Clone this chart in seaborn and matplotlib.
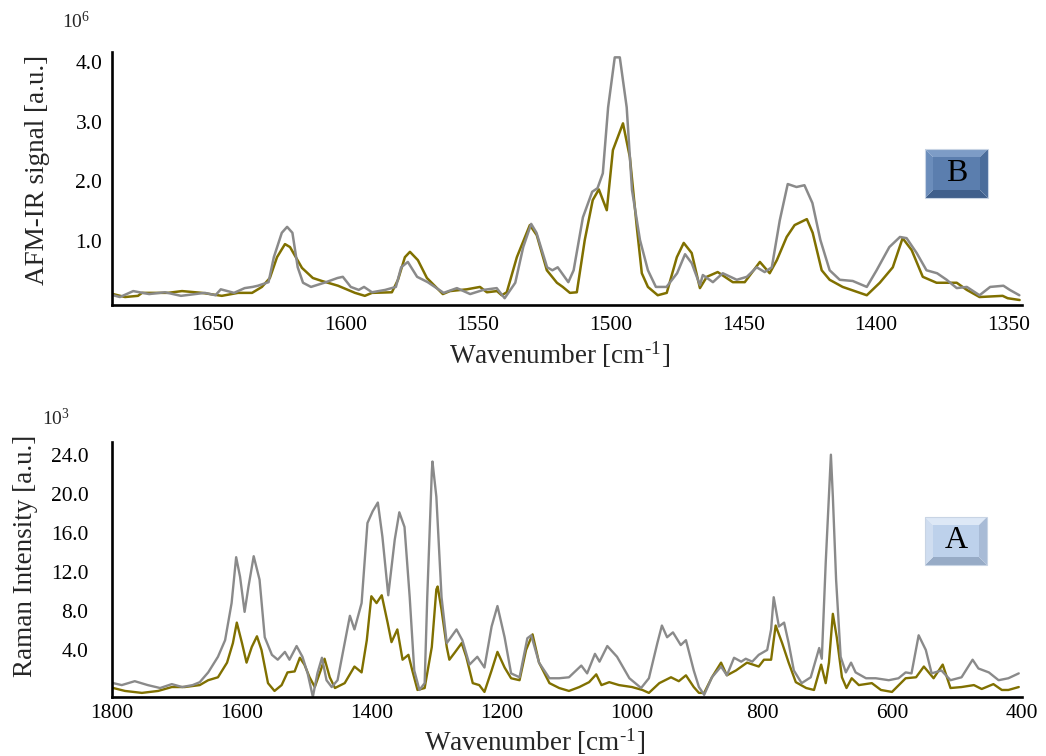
import matplotlib
matplotlib.use("Agg")
import matplotlib.pyplot as plt
import matplotlib.patches as mpatches
from matplotlib.ticker import FormatStrFormatter
import pandas as pd
import seaborn as sns

# AFM-IR spectrum (panel B), signal in units of 1e6
afm_wn_gray = [1687.6, 1685, 1680, 1674, 1668, 1662, 1653, 1649, 1647, 1642,
               1638, 1635, 1633, 1629, 1627, 1624, 1622, 1620, 1618, 1616,
               1613, 1608, 1603, 1601, 1598, 1595, 1593, 1590, 1585, 1581,
               1579, 1576.5, 1573, 1569, 1563, 1558, 1553, 1548, 1543, 1540,
               1536, 1533, 1530, 1528, 1524, 1522, 1520, 1516, 1514, 1510.5,
               1507, 1505, 1503, 1501, 1498.5, 1496.6, 1494, 1492, 1489, 1486,
               1483, 1479, 1475, 1472, 1469.5, 1466.4, 1465.3, 1461.5, 1457.8, 1452.5,
               1448.7, 1445, 1442, 1439.3, 1436.3, 1433.3, 1430, 1427, 1424, 1421,
               1417.5, 1413.7, 1408.8, 1403.5, 1399.8, 1395, 1391, 1388.5, 1384.7, 1381,
               1377, 1373.4, 1369.6, 1365.8, 1361, 1357, 1352, 1349.6, 1346]
afm_gray = [0.08, 0.05, 0.15, 0.10, 0.13, 0.07, 0.12, 0.08, 0.18, 0.12,
            0.20, 0.22, 0.24, 0.30, 0.72, 1.13, 1.23, 1.13, 0.55, 0.29,
            0.22, 0.29, 0.37, 0.39, 0.22, 0.17, 0.22, 0.13, 0.17, 0.22,
            0.55, 0.64, 0.39, 0.30, 0.12, 0.20, 0.10, 0.17, 0.20, 0.03,
            0.29, 0.89, 1.28, 1.13, 0.55, 0.50, 0.55, 0.30, 0.50, 1.39,
            1.82, 1.88, 2.13, 3.24, 4.08, 4.08, 3.24, 1.85, 1.01, 0.50,
            0.22, 0.22, 0.45, 0.77, 0.62, 0.25, 0.42, 0.30, 0.45, 0.34,
            0.39, 0.55, 0.47, 0.55, 1.34, 1.95, 1.90, 1.93, 1.63, 1.01,
            0.50, 0.34, 0.32, 0.22, 0.50, 0.89, 1.06, 1.04, 0.79, 0.50,
            0.45, 0.34, 0.20, 0.22, 0.08, 0.22, 0.24, 0.17, 0.08]

afm_wn_olive = [1687.6, 1683.1, 1678.2, 1676.7, 1666.9, 1661.6, 1654.1, 1646.6, 1640.5, 1635.2,
                1631.5, 1628.5, 1625.8, 1622.8, 1620.9, 1616.4, 1612.3, 1608.9, 1602.8, 1596.4,
                1592.7, 1590.0, 1582.5, 1580.2, 1577.6, 1575.7, 1572.7, 1569.3, 1563.3, 1560.6,
                1554.2, 1549.3, 1546.7, 1542.9, 1541.1, 1539.2, 1535.4, 1530.5, 1527.9, 1524.1,
                1520.3, 1518.1, 1515.4, 1512.8, 1509.8, 1506.8, 1504.5, 1501.5, 1499.2, 1495.4,
                1492.8, 1490.2, 1488.3, 1486.0, 1482.3, 1478.9, 1475.1, 1472.5, 1469.5, 1466.4,
                1463.8, 1459.7, 1454.0, 1449.5, 1443.8, 1440.1, 1437.4, 1433.7, 1430.7, 1426.1,
                1423.9, 1420.5, 1417.5, 1412.6, 1403.5, 1398.6, 1393.7, 1390.0, 1386.6, 1382.4,
                1377.2, 1369.6, 1365.8, 1361.0, 1352.3, 1350.4, 1345.9]
afm_olive = [0.10, 0.05, 0.07, 0.12, 0.12, 0.15, 0.12, 0.07, 0.12, 0.12,
             0.22, 0.37, 0.72, 0.94, 0.89, 0.54, 0.37, 0.32, 0.24, 0.12,
             0.07, 0.12, 0.13, 0.34, 0.72, 0.81, 0.67, 0.37, 0.10, 0.15,
             0.18, 0.22, 0.13, 0.15, 0.08, 0.13, 0.72, 1.26, 1.09, 0.50,
             0.29, 0.22, 0.12, 0.13, 1.01, 1.68, 1.86, 1.51, 2.52, 2.97,
             2.40, 1.23, 0.45, 0.22, 0.08, 0.12, 0.72, 0.96, 0.79, 0.20,
             0.39, 0.47, 0.30, 0.30, 0.64, 0.45, 0.67, 1.06, 1.26, 1.36,
             1.13, 0.50, 0.34, 0.22, 0.08, 0.29, 0.55, 1.04, 0.84, 0.39,
             0.29, 0.29, 0.17, 0.05, 0.07, 0.03, 0.0]

# Raman spectrum (panel A), intensity in units of 1e3
raman_wn_gray = [1798, 1785, 1765, 1745, 1726, 1708, 1692, 1676, 1665, 1652,
                 1637, 1626, 1616, 1609, 1603, 1596, 1590, 1582, 1573, 1565,
                 1554, 1545, 1534, 1527, 1516, 1507, 1499, 1491, 1484, 1477,
                 1470, 1462, 1453, 1442, 1434, 1427, 1416, 1407, 1399, 1391,
                 1384, 1375, 1365, 1358, 1350, 1342, 1335, 1327, 1319, 1315,
                 1308, 1307, 1301, 1293, 1285, 1270, 1261, 1250, 1238, 1227,
                 1216, 1207, 1196, 1186, 1173, 1161, 1155, 1143, 1127, 1112,
                 1097, 1078, 1069, 1057, 1050, 1038, 1023, 1004, 986, 974,
                 961, 954, 946, 937, 925, 917, 905, 897, 889, 877,
                 863, 854, 843, 832, 825, 815, 805, 792, 786, 782,
                 774, 766, 759, 751, 739, 725, 712, 708, 702, 694,
                 691, 686, 679, 671, 663, 656, 640, 625, 605, 590,
                 579, 570, 559, 548, 539, 524, 510, 493, 476, 467,
                 451, 436, 421, 405]
raman_gray = [0.6, 0.4, 0.8, 0.4, 0.1, 0.5, 0.2, 0.4, 0.7, 1.7,
              3.3, 5.0, 8.8, 13.5, 11.5, 7.9, 10.5, 13.6, 11.2, 5.3,
              3.5, 3.0, 3.8, 3.0, 4.4, 3.3, 1.6, -0.8, 1.6, 3.2,
              0.9, 0.2, 0.9, 4.7, 7.5, 6.1, 8.8, 17.0, 18.2, 19.1,
              15.6, 9.6, 15.3, 18.1, 16.6, 9.4, 1.9, -0.1, 0.6, 9.4,
              22.2, 23.3, 19.7, 9.4, 4.7, 6.1, 5.0, 2.5, 3.3, 2.2,
              6.4, 8.5, 5.3, 1.6, 1.2, 5.2, 5.5, 2.7, 1.1, 1.1,
              1.2, 2.4, 1.6, 3.6, 2.8, 4.4, 3.3, 1.1, 0.1, 1.1,
              4.7, 6.5, 5.3, 5.8, 4.5, 5.0, 1.9, 0.2, -0.6, 1.2,
              2.3, 1.4, 3.2, 2.8, 3.1, 2.8, 3.5, 4.0, 6.1, 9.4,
              6.4, 6.8, 4.7, 1.9, 0.6, 1.2, 4.2, 3.1, 12.9, 24.0,
              19.7, 11.2, 3.3, 1.7, 2.7, 1.7, 1.1, 1.1, 0.9, 1.1,
              1.7, 1.6, 5.5, 4.0, 1.6, 1.9, 0.9, 1.2, 3.0, 2.1,
              1.7, 0.9, 1.1, 1.6]

raman_wn_olive = [1798, 1780, 1754, 1729, 1708, 1688, 1665, 1652, 1637, 1623,
                  1614, 1608, 1600, 1593, 1585, 1577, 1570, 1560, 1550, 1539,
                  1530, 1519, 1511, 1504, 1496, 1488, 1479, 1473, 1465, 1457,
                  1442, 1427, 1416, 1408, 1401, 1393, 1385, 1376, 1370, 1361,
                  1353, 1344, 1338, 1330, 1319, 1308, 1301, 1299, 1293, 1285,
                  1281, 1273, 1262, 1255, 1245, 1235, 1227, 1216, 1207, 1196,
                  1186, 1173, 1163, 1153, 1143, 1127, 1112, 1097, 1081, 1066,
                  1055, 1047, 1035, 1020, 1000, 984, 974, 958, 940, 928,
                  917, 905, 897, 889, 877, 863, 854, 840, 823, 805,
                  797, 786, 779, 769, 759, 748, 732, 720, 709, 702,
                  697, 691, 685, 677, 670, 662, 651, 631, 617, 600,
                  579, 563, 551, 536, 522, 510, 493, 474, 462, 444,
                  431, 421, 405]
raman_olive = [0.1, -0.2, -0.4, -0.2, 0.2, 0.2, 0.4, 0.9, 1.2, 2.7,
               4.7, 6.8, 4.7, 2.7, 4.3, 5.4, 4.0, 0.6, -0.2, 0.4,
               1.7, 1.8, 3.2, 2.5, 1.2, 0.2, 1.9, 3.1, 1.2, 0.1,
               0.6, 2.3, 1.7, 5.0, 9.5, 8.8, 9.6, 6.8, 4.8, 6.1,
               3.0, 3.5, 1.9, -0.1, 0.1, 4.3, 10.2, 10.5, 8.1, 4.3,
               3.0, 3.7, 4.7, 3.3, 0.6, 0.4, -0.3, 1.9, 3.8, 2.2,
               1.1, 0.9, 4.0, 5.6, 2.7, 0.6, 0.1, -0.2, 0.2, 0.7,
               1.5, 0.4, 0.7, 0.4, 0.2, -0.1, -0.4, 0.6, 1.2, 0.8,
               1.4, 0.2, -0.4, -0.4, 1.2, 2.7, 1.4, 1.9, 2.7, 2.3,
               3.0, 3.0, 6.5, 4.7, 2.7, 0.7, 0.1, -0.1, 2.5, 0.6,
               2.7, 7.7, 5.3, 1.2, 0.1, 1.1, 0.4, 0.6, -0.1, -0.3,
               1.1, 1.2, 2.3, 1.1, 2.5, 0.1, 0.2, 0.4, 0.0, 0.5,
               -0.1, -0.1, 0.2]

afm_ticks = [1650, 1600, 1550, 1500, 1450, 1400, 1350]
afm_yticks = [1.0, 2.0, 3.0, 4.0]
raman_ticks = [1800, 1600, 1400, 1200, 1000, 800, 600, 400]
raman_yticks = [4.0, 8.0, 12.0, 16.0, 20.0, 24.0]

GRAY = "#8a8a8a"
OLIVE = "#807000"

sns.set_style("white")
plt.rcParams["font.family"] = ["Liberation Serif", "DejaVu Serif"]
plt.rcParams["mathtext.fontset"] = "stix"

fig = plt.figure(figsize=(10.46, 7.56), dpi=100)
W, H = 1046.0, 756.0
ax_b = fig.add_axes([112 / W, 1 - 305 / H, 910 / W, 253 / H])
ax_a = fig.add_axes([112 / W, 1 - 697 / H, 910 / W, 255 / H])

afm_g = pd.DataFrame({"wn": afm_wn_gray, "val": afm_gray})
afm_o = pd.DataFrame({"wn": afm_wn_olive, "val": afm_olive})
ram_g = pd.DataFrame({"wn": raman_wn_gray, "val": raman_gray})
ram_o = pd.DataFrame({"wn": raman_wn_olive, "val": raman_olive})

sns.lineplot(data=afm_o, x="wn", y="val", ax=ax_b, color=OLIVE, lw=1.8,
             sort=False, estimator=None)
sns.lineplot(data=afm_g, x="wn", y="val", ax=ax_b, color=GRAY, lw=1.8,
             sort=False, estimator=None)
sns.lineplot(data=ram_o, x="wn", y="val", ax=ax_a, color=OLIVE, lw=1.7,
             sort=False, estimator=None)
sns.lineplot(data=ram_g, x="wn", y="val", ax=ax_a, color=GRAY, lw=1.7,
             sort=False, estimator=None)

ax_b.set_xlim(1688, 1345)
ax_b.set_ylim(-0.084, 4.17)
ax_b.set_xticks(afm_ticks)
ax_b.set_yticks(afm_yticks)

ax_a.set_xlim(1800, 400)
ax_a.set_ylim(-0.82, 25.3)
ax_a.set_xticks(raman_ticks)
ax_a.set_yticks(raman_yticks)

for ax in (ax_a, ax_b):
    sns.despine(ax=ax)
    for s in ("left", "bottom"):
        ax.spines[s].set_linewidth(1.9)
        ax.spines[s].set_color("black")
    ax.yaxis.set_major_formatter(FormatStrFormatter("%.1f"))
    ax.tick_params(length=0, labelsize=15.5, colors="black")
    ax.set_facecolor("white")

ax_b.tick_params(axis="y", pad=7)
ax_b.tick_params(axis="x", pad=8)
ax_a.tick_params(axis="y", pad=17)
ax_a.tick_params(axis="x", pad=5)

xlab = "Wavenumber [cm$^{\\mathregular{\u20101}}$]"
ax_b.set_xlabel(xlab, fontsize=19.5)
ax_b.xaxis.set_label_coords(0.492, -0.135)
ax_a.set_xlabel(xlab, fontsize=19.5)
ax_a.xaxis.set_label_coords(0.465, -0.115)

ax_b.set_ylabel("AFM-IR signal [a.u.]", fontsize=19.5)
ax_b.yaxis.set_label_coords(-0.068, 0.534)
ax_a.set_ylabel("Raman Intensity [a.u.]", fontsize=19.5)
ax_a.yaxis.set_label_coords(-0.081, 0.553)

fig.text(62 / W, 1 - 32 / H, r"$\mathregular{10^{6}}$", fontsize=14,
         ha="left", va="bottom")
fig.text(42 / W, 1 - 429 / H, r"$\mathregular{10^{3}}$", fontsize=14,
         ha="left", va="bottom")


def bevel_box(x0, y0, w, h, face, top, bottom, left, right, label):
    # x0, y0: top-left corner in figure pixels
    b = 8.0
    X = lambda px: px / W
    Y = lambda py: 1 - py / H
    xl, xr, yt, yb = x0, x0 + w, y0, y0 + h
    polys = [
        ([(xl, yt), (xr, yt), (xr - b, yt + b), (xl + b, yt + b)], top),
        ([(xl, yb), (xr, yb), (xr - b, yb - b), (xl + b, yb - b)], bottom),
        ([(xl, yt), (xl + b, yt + b), (xl + b, yb - b), (xl, yb)], left),
        ([(xr, yt), (xr - b, yt + b), (xr - b, yb - b), (xr, yb)], right),
        ([(xl + b, yt + b), (xr - b, yt + b), (xr - b, yb - b), (xl + b, yb - b)], face),
    ]
    for pts, col in polys:
        fig.patches.append(mpatches.Polygon([(X(px), Y(py)) for px, py in pts],
                                            closed=True, facecolor=col, edgecolor="none",
                                            transform=fig.transFigure, zorder=5))
    fig.patches.append(mpatches.Rectangle((X(xl), Y(yb)), w / W, h / H, fill=False,
                                          edgecolor="#c8d4e4", lw=0.8,
                                          transform=fig.transFigure, zorder=6))
    fig.text(X(xl + w / 2), Y(yt + h / 2), label, fontsize=23, ha="center",
             va="center", color="black", zorder=7)


bevel_box(925, 149, 63, 49, "#5b7eae", "#7d9cc6", "#3f5f8c", "#6b8dbb", "#4b6d9b", "B")
bevel_box(925, 517, 62, 48, "#bdd1eb", "#dde8f6", "#97abc6", "#cfddf0", "#a8bbd6", "A")

fig.savefig("out.png", dpi=100, facecolor="white")
